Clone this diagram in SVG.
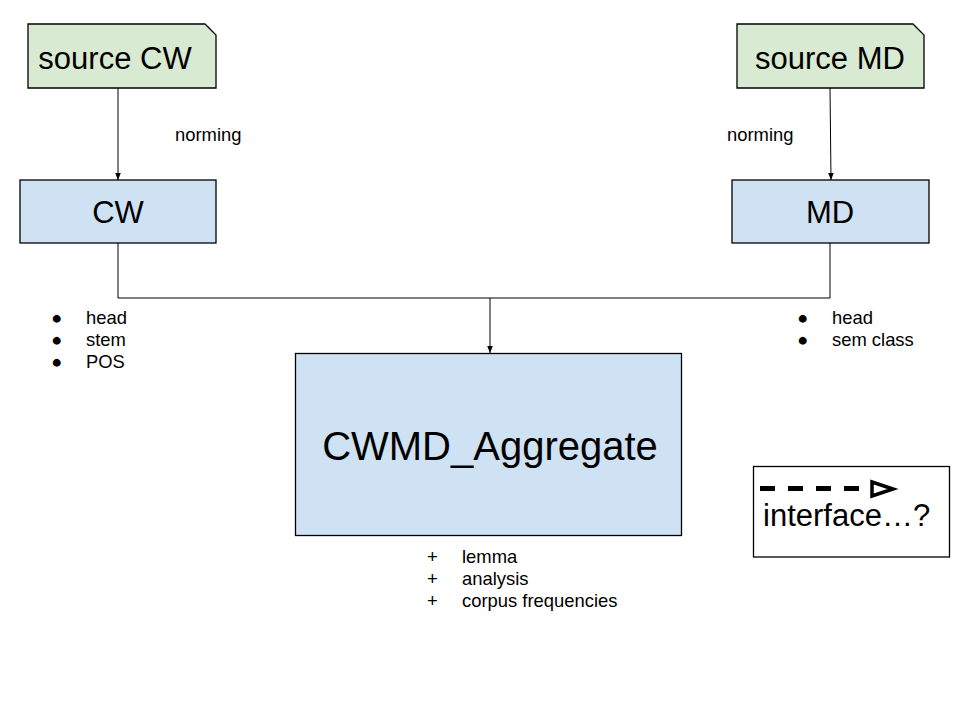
<svg xmlns="http://www.w3.org/2000/svg" width="960" height="720" viewBox="0 0 960 720">
<defs>
<style>
text{font-family:"Liberation Sans",Arial,sans-serif;fill:#000}
.src{fill:#d9ead3;stroke:#000;stroke-width:1.3}
.box{fill:#cfe2f3;stroke:#000;stroke-width:1.3}
.big{font-size:31px}
.sm{font-size:18.4px}
.conn{fill:none;stroke:#000;stroke-width:1}
</style>
<marker id="arr" viewBox="0 0 10 10" refX="10" refY="5" markerWidth="7" markerHeight="7" orient="auto" markerUnits="userSpaceOnUse">
<path d="M0,1 L10,5 L0,9 Z" fill="#000"/>
</marker>
</defs>
<rect width="960" height="720" fill="#fff"/>

<g id="connectors">
<line class="conn" x1="118" y1="88" x2="118" y2="180" marker-end="url(#arr)"/>
<line class="conn" x1="830" y1="88" x2="831" y2="180" marker-end="url(#arr)"/>
<polyline class="conn" points="118,243 118,298 830,298 830,243"/>
<line class="conn" x1="490" y1="298" x2="490" y2="353" marker-end="url(#arr)"/>
<text class="sm" x="175" y="141">norming</text>
<text class="sm" x="727" y="141">norming</text>
</g>

<g id="source-cw">
<path class="src" d="M28,24 H205 L216,35 V88 H28 Z"/>
<text class="big" x="115" y="69" text-anchor="middle">source CW</text>
</g>

<g id="source-md">
<path class="src" d="M737,24 H913 L924,35 V88 H737 Z"/>
<text class="big" x="830" y="69" text-anchor="middle">source MD</text>
</g>

<g id="cw">
<rect class="box" x="20" y="180" width="196" height="63"/>
<text class="big" x="118" y="223" text-anchor="middle">CW</text>
</g>

<g id="md">
<rect class="box" x="732" y="180" width="197" height="63"/>
<text class="big" x="830" y="223" text-anchor="middle">MD</text>
</g>

<g id="cw-attrs">
<text class="sm" x="51" y="324">●</text>
<text class="sm" x="86" y="324">head</text>
<text class="sm" x="51" y="346">●</text>
<text class="sm" x="86" y="346">stem</text>
<text class="sm" x="51" y="368">●</text>
<text class="sm" x="86" y="368">POS</text>
</g>

<g id="md-attrs">
<text class="sm" x="797" y="324">●</text>
<text class="sm" x="832" y="324">head</text>
<text class="sm" x="797" y="346">●</text>
<text class="sm" x="832" y="346">sem class</text>
</g>

<g id="aggregate">
<rect class="box" x="295.5" y="353.5" width="386" height="182"/>
<text x="490" y="460" text-anchor="middle" font-size="40">CWMD_Aggregate</text>
</g>

<g id="aggregate-attrs">
<text class="sm" x="427" y="563">+</text>
<text class="sm" x="462" y="563">lemma</text>
<text class="sm" x="427" y="585">+</text>
<text class="sm" x="462" y="585">analysis</text>
<text class="sm" x="427" y="607">+</text>
<text class="sm" x="462" y="607">corpus frequencies</text>
</g>

<g id="legend">
<rect x="753.5" y="466.5" width="196" height="90.5" fill="#fff" stroke="#000" stroke-width="1.3"/>
<line x1="760" y1="488.5" x2="859" y2="488.5" stroke="#000" stroke-width="5" stroke-dasharray="15,13"/>
<path d="M872,482 L893,489 L872,496 Z" fill="#fff" stroke="#000" stroke-width="3.5" stroke-linejoin="miter"/>
<text x="763" y="526" font-size="31">interface…?</text>
</g>
</svg>
